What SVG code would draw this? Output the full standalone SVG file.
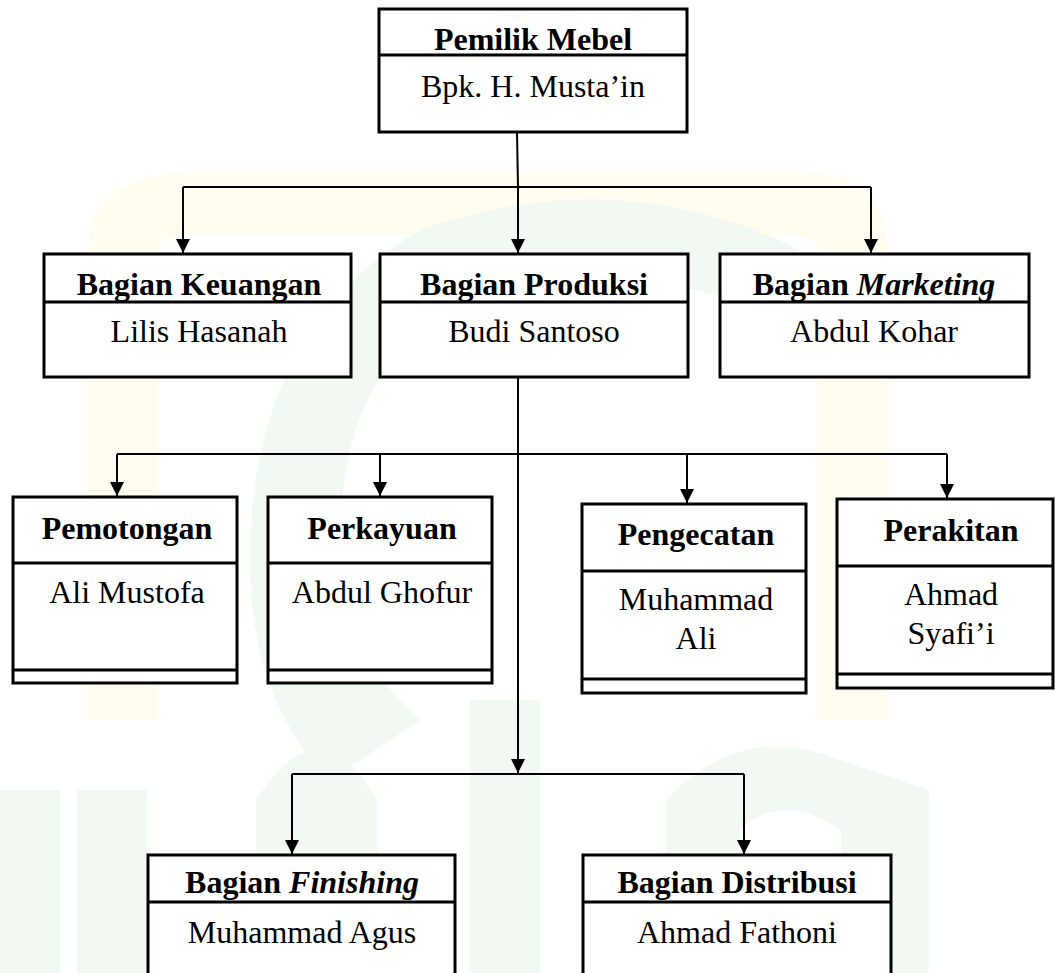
<svg xmlns="http://www.w3.org/2000/svg" width="1055" height="973" viewBox="0 0 1055 973">
  <style>
    .box { fill: #ffffff; stroke: #000000; stroke-width: 3; }
    .div { stroke: #000000; stroke-width: 3; fill: none; }
    .con { stroke: #000000; stroke-width: 2; fill: none; }
    .arr { stroke: #000000; stroke-width: 2; fill: none; marker-end: url(#ah); }
    .hd { font-family: "Liberation Serif", "Times New Roman", serif; font-size: 32px; font-weight: bold; text-anchor: middle; fill: #000; }
    .nm { font-family: "Liberation Serif", "Times New Roman", serif; font-size: 32px; text-anchor: middle; fill: #000; }
    .wmg { fill: #f2f8f2; }
    .wmy { fill: #fffdf0; }
  </style>
  <defs>
    <marker id="ah" markerUnits="userSpaceOnUse" markerWidth="16" markerHeight="16" refX="14" refY="7" orient="auto">
      <path d="M0,0 L14,7 L0,14 Z" fill="#000"/>
    </marker>
  </defs>
  <rect width="1055" height="973" fill="#ffffff"/>

  <g id="watermark">
    <path class="wmy" d="M88,720 L88,250 Q88,172 200,172 L800,172 Q887,172 887,250 L887,720 L817,720 L817,250 Q817,235 790,235 L200,235 Q157,235 157,250 L157,720 Z"/>
    <path class="wmg" d="M420,230 Q250,330 250,560 Q250,700 330,780 L420,720 Q340,650 340,540 Q340,360 470,300 Q600,250 760,310 L800,250 Q620,160 420,230 Z"/>
    <rect class="wmg" x="0" y="790" width="60" height="183"/>
    <rect class="wmg" x="77" y="790" width="70" height="183"/>
    <path class="wmg" d="M256,973 L256,800 Q320,700 377,800 L377,973 Z"/>
    <rect class="wmg" x="470" y="700" width="70" height="273"/>
    <path class="wmg" d="M666,973 L666,800 Q740,720 840,760 L929,790 L929,973 L841,973 L841,830 Q780,790 740,830 L740,973 Z"/>
  </g>

  <g id="connectors">
    <polyline class="con" points="517,132 518,187"/>
    <line class="con" x1="183" y1="187" x2="871" y2="187"/>
    <line class="arr" x1="183" y1="187" x2="183" y2="253"/>
    <line class="arr" x1="518" y1="187" x2="518" y2="253"/>
    <line class="arr" x1="871" y1="187" x2="871" y2="253"/>

    <line class="arr" x1="518" y1="377" x2="518" y2="773"/>
    <line class="con" x1="117" y1="454" x2="947" y2="454"/>
    <line class="arr" x1="117" y1="454" x2="117" y2="496"/>
    <line class="arr" x1="380" y1="454" x2="380" y2="496"/>
    <line class="arr" x1="687" y1="454" x2="687" y2="503"/>
    <line class="arr" x1="947" y1="454" x2="947" y2="498"/>

    <line class="con" x1="292" y1="774" x2="744" y2="774"/>
    <line class="arr" x1="292" y1="774" x2="292" y2="854"/>
    <line class="arr" x1="744" y1="774" x2="744" y2="854"/>
  </g>

  <g id="pemilik">
    <rect class="box" x="379" y="9" width="308" height="123"/>
    <line class="div" x1="379" y1="55" x2="687" y2="55"/>
    <text class="hd" x="533" y="50">Pemilik Mebel</text>
    <text class="nm" x="533" y="97">Bpk. H. Musta’in</text>
  </g>

  <g id="keuangan">
    <rect class="box" x="44" y="254" width="307" height="123"/>
    <line class="div" x1="44" y1="302" x2="351" y2="302"/>
    <text class="hd" x="199" y="295">Bagian Keuangan</text>
    <text class="nm" x="199" y="342">Lilis Hasanah</text>
  </g>

  <g id="produksi">
    <rect class="box" x="380" y="254" width="308" height="123"/>
    <line class="div" x1="380" y1="302" x2="688" y2="302"/>
    <text class="hd" x="534" y="295">Bagian Produksi</text>
    <text class="nm" x="534" y="342">Budi Santoso</text>
  </g>

  <g id="marketing">
    <rect class="box" x="720" y="254" width="309" height="123"/>
    <line class="div" x1="720" y1="302" x2="1029" y2="302"/>
    <text class="hd" x="874" y="295">Bagian <tspan font-style="italic">Marketing</tspan></text>
    <text class="nm" x="874" y="342">Abdul Kohar</text>
  </g>

  <g id="pemotongan">
    <rect class="box" x="13" y="497" width="224" height="186"/>
    <line class="div" x1="13" y1="563" x2="237" y2="563"/>
    <line class="div" x1="13" y1="670" x2="237" y2="670"/>
    <text class="hd" x="127" y="539">Pemotongan</text>
    <text class="nm" x="127" y="603">Ali Mustofa</text>
  </g>

  <g id="perkayuan">
    <rect class="box" x="268" y="497" width="224" height="186"/>
    <line class="div" x1="268" y1="563" x2="492" y2="563"/>
    <line class="div" x1="268" y1="670" x2="492" y2="670"/>
    <text class="hd" x="382" y="539">Perkayuan</text>
    <text class="nm" x="382" y="603">Abdul Ghofur</text>
  </g>

  <g id="pengecatan">
    <rect class="box" x="582" y="504" width="224" height="189"/>
    <line class="div" x1="582" y1="571" x2="806" y2="571"/>
    <line class="div" x1="582" y1="679" x2="806" y2="679"/>
    <text class="hd" x="696" y="545">Pengecatan</text>
    <text class="nm" x="696" y="610">Muhammad</text>
    <text class="nm" x="696" y="649">Ali</text>
  </g>

  <g id="perakitan">
    <rect class="box" x="837" y="499" width="216" height="189"/>
    <line class="div" x1="837" y1="566" x2="1053" y2="566"/>
    <line class="div" x1="837" y1="674" x2="1053" y2="674"/>
    <text class="hd" x="951" y="541">Perakitan</text>
    <text class="nm" x="951" y="605">Ahmad</text>
    <text class="nm" x="951" y="644">Syafi’i</text>
  </g>

  <g id="finishing">
    <rect class="box" x="148" y="855" width="307" height="140"/>
    <line class="div" x1="148" y1="902" x2="455" y2="902"/>
    <text class="hd" x="302" y="893">Bagian <tspan font-style="italic">Finishing</tspan></text>
    <text class="nm" x="302" y="943">Muhammad Agus</text>
  </g>

  <g id="distribusi">
    <rect class="box" x="583" y="855" width="308" height="140"/>
    <line class="div" x1="583" y1="902" x2="891" y2="902"/>
    <text class="hd" x="737" y="893">Bagian Distribusi</text>
    <text class="nm" x="737" y="943">Ahmad Fathoni</text>
  </g>
</svg>
